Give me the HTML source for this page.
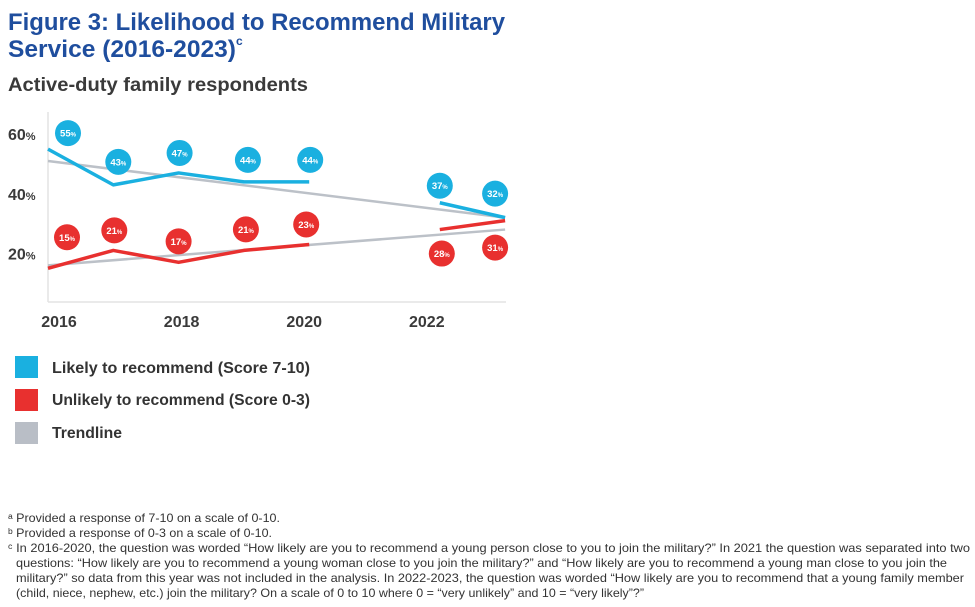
<!DOCTYPE html>
<html><head><meta charset="utf-8"><style>
html,body{margin:0;padding:0;background:#fff;}
svg{display:block;font-family:"Liberation Sans",sans-serif;}
</style></head><body>
<svg id="chart" width="975" height="607" viewBox="0 0 975 607" xmlns="http://www.w3.org/2000/svg">
<text x="8" y="30" font-size="24" font-weight="bold" fill="#1f4e9e" textLength="497" lengthAdjust="spacingAndGlyphs">Figure 3: Likelihood to Recommend Military</text>
<text x="8" y="57" font-size="24" font-weight="bold" fill="#1f4e9e" textLength="228" lengthAdjust="spacingAndGlyphs">Service (2016-2023)</text>
<text x="236" y="45" font-size="12" font-weight="bold" fill="#1f4e9e">c</text>
<text x="8" y="91" font-size="19" font-weight="bold" fill="#3a3a3a" textLength="300" lengthAdjust="spacingAndGlyphs">Active-duty family respondents</text>

<line x1="48" y1="112" x2="48" y2="302" stroke="#e3e3e3" stroke-width="1.5"/>
<line x1="48" y1="302" x2="506" y2="302" stroke="#e3e3e3" stroke-width="1.5"/>
<g id="yticks"></g><g id="xticks"></g><g id="trends"></g><g id="series"></g><g id="bubbles"></g>

<rect x="15" y="356" width="23" height="22" fill="#1ab0e0"/>
<text x="52" y="373" font-size="16" font-weight="bold" fill="#333" textLength="258" lengthAdjust="spacingAndGlyphs">Likely to recommend (Score 7-10)</text>
<rect x="15" y="389" width="23" height="22" fill="#e8302f"/>
<text x="52" y="405" font-size="16" font-weight="bold" fill="#333" textLength="258" lengthAdjust="spacingAndGlyphs">Unlikely to recommend (Score 0-3)</text>
<rect x="15" y="422" width="23" height="22" fill="#b9bec6"/>
<text x="52" y="438" font-size="16" font-weight="bold" fill="#333" textLength="70" lengthAdjust="spacingAndGlyphs">Trendline</text>

<g font-size="12" fill="#333">
<text x="8" y="522" textLength="272" lengthAdjust="spacingAndGlyphs">ᵃ Provided a response of 7-10 on a scale of 0-10.</text>
<text x="8" y="537" textLength="264" lengthAdjust="spacingAndGlyphs">ᵇ Provided a response of 0-3 on a scale of 0-10.</text>
<text x="8" y="552" textLength="962" lengthAdjust="spacingAndGlyphs">ᶜ In 2016-2020, the question was worded “How likely are you to recommend a young person close to you to join the military?” In 2021 the question was separated into two</text>
<text x="16" y="567" textLength="931" lengthAdjust="spacingAndGlyphs">questions: “How likely are you to recommend a young woman close to you join the military?” and “How likely are you to recommend a young man close to you join the</text>
<text x="16" y="582" textLength="948" lengthAdjust="spacingAndGlyphs">military?” so data from this year was not included in the analysis. In 2022-2023, the question was worded “How likely are you to recommend that a young family member</text>
<text x="16" y="597" textLength="628" lengthAdjust="spacingAndGlyphs">(child, niece, nephew, etc.) join the military? On a scale of 0 to 10 where 0 = “very unlikely” and 10 = “very likely”?”</text>
</g>
</svg>
<script>
const years1 = [2016, 2017, 2018, 2019, 2020];
const years2 = [2022, 2023];
const likely1 = [55, 43, 47, 44, 44];
const likely2 = [37, 32];
const unlikely1 = [15, 21, 17, 21, 23];
const unlikely2 = [28, 31];
const trendYears = [2016, 2023];
const trendLikely = [51, 32];
const trendUnlikely = [16, 28];
const yTickValues = [60, 40, 20];
const xTickValues = [2016, 2018, 2020, 2022];

const NS = "http://www.w3.org/2000/svg";
function x(yr){ return 48 + (yr - 2016) * 65.3; }
function y(v){ return 313 - v * 2.98; }
function mk(tag, attrs, parent){
  const e = document.createElementNS(NS, tag);
  for (const k in attrs) e.setAttribute(k, attrs[k]);
  parent.appendChild(e); return e;
}
const yt = document.getElementById('yticks');
yTickValues.forEach(v => {
  const t = mk('text', {x: 8, y: y(v) + 6, 'font-size': 16, 'font-weight': 'bold', fill: '#3a3a3a'}, yt);
  
  
  t.innerHTML = v + '<tspan font-size="11">%</tspan>';
});
const xt = document.getElementById('xticks');
xTickValues.forEach(yr => {
  const t = mk('text', {x: x(yr) + (2019 - yr) * 4 - 1, y: 327, 'font-size': 16, 'font-weight': 'bold', fill: '#3a3a3a', 'text-anchor': 'middle'}, xt);
  
  
  t.textContent = yr;
});
const tr = document.getElementById('trends');
[[trendLikely, 'trendline-likely'], [trendUnlikely, 'trendline-unlikely']].forEach(([vals, name]) => {
  const l = mk('line', {x1: x(trendYears[0]), y1: y(vals[0]), x2: x(trendYears[1]), y2: y(vals[1]), stroke: '#bcc1c8', 'stroke-width': 2.5}, tr);
  
  
});
const sg = document.getElementById('series');
function line(yrs, vals, color, name){
  const p = mk('polyline', {points: yrs.map((yr, i) => x(yr) + ',' + y(vals[i])).join(' '), fill: 'none', stroke: color, 'stroke-width': 3.5, 'stroke-linejoin': 'round'}, sg);
  
  
}
line(years1, likely1, '#1ab0e0', 'likely-line-2016-2020');
line(years2, likely2, '#1ab0e0', 'likely-line-2022-2023');
line(years1, unlikely1, '#e8302f', 'unlikely-line-2016-2020');
line(years2, unlikely2, '#e8302f', 'unlikely-line-2022-2023');

const bg = document.getElementById('bubbles');
const likelyOffsets = [[20,-16],[5,-23],[1,-20],[4,-22],[1,-22],[0,-17],[-10,-24]];
const unlikelyOffsets = [[19,-31],[1,-20],[0,-21],[2,-21],[-3,-20],[2,24],[-10,27]];
function bubbles(yrs, vals, offs, color, name){
  yrs.forEach((yr, i) => {
    const cx = x(yr) + offs[i][0], cy = y(vals[i]) + offs[i][1];
    const g = mk('g', {}, bg);
    
    
    mk('circle', {cx: cx, cy: cy, r: 13, fill: color}, g);
    const t = mk('text', {x: cx, y: cy + 3.5, 'font-size': 9.5, 'font-weight': 'bold', fill: '#fff', 'text-anchor': 'middle'}, g);
    t.innerHTML = vals[i] + '<tspan font-size="6">%</tspan>';
  });
}
const allYears = years1.concat(years2);
bubbles(allYears, likely1.concat(likely2), likelyOffsets, '#1ab0e0', 'likely-value-label');
bubbles(allYears, unlikely1.concat(unlikely2), unlikelyOffsets, '#e8302f', 'unlikely-value-label');
</script>
</body></html>
